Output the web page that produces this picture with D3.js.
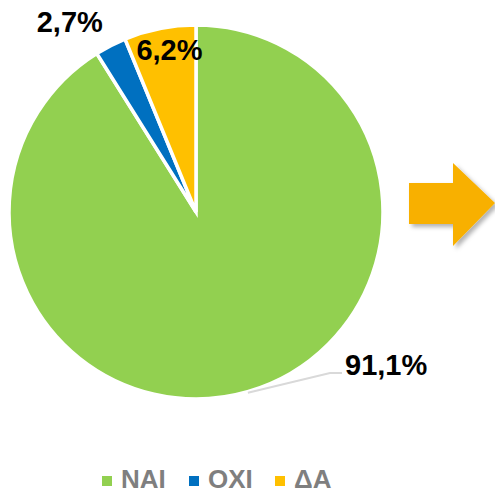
<!DOCTYPE html>
<html><head><meta charset="utf-8">
<script src="https://cdn.jsdelivr.net/npm/d3@7"></script>
<style>
html,body{margin:0;padding:0;background:#fff;}
svg{display:block;font-family:"Liberation Sans",Arial,sans-serif;}
</style></head>
<body>
<svg id="c" width="495" height="493"></svg>
<script>
const categories = ["NAI", "OXI", "ΔΑ"];
const values = [91.1, 2.7, 6.2];
const labels = ["91,1%", "2,7%", "6,2%"];
const colors = ["#92d050", "#0070c0", "#ffc000"];

const svg = d3.select("#c");
const cx = 196, cy = 212, R = 187;

const defs = svg.append("defs");
const f = defs.append("filter").attr("id","sh").attr("x","-20%").attr("y","-20%").attr("width","150%").attr("height","150%");
f.append("feDropShadow").attr("dx",3).attr("dy",3).attr("stdDeviation",2).attr("flood-color","#000").attr("flood-opacity",0.3);

const pie = d3.pie().sort(null).value(d => d)(values);
const arc = d3.arc().innerRadius(0).outerRadius(R);
const g = svg.append("g").attr("transform", `translate(${cx},${cy})`);
g.selectAll("path.s").data(pie).join("path")
  .attr("class","s")
  .attr("d", arc)
  .attr("fill", (d,i) => colors[i])
  .attr("stroke", "#fff").attr("stroke-width", 3.5).attr("stroke-linejoin","miter");

const mid = d => (d.startAngle + d.endAngle) / 2;
const pt = (a, r) => [Math.sin(a) * r, -Math.cos(a) * r];
const FS = 29;

// Label for NAI with leader line
const p0 = pie[0];
const a0 = mid(p0);
const s0 = pt(a0, R + 1);
const e0 = [134, 161];
g.append("polyline")
  .attr("points", [s0, e0, [e0[0] + 12, e0[1]]].map(p => p.join(",")).join(" "))
  .attr("fill","none").attr("stroke","#d9d9d9").attr("stroke-width",2);
g.append("text").attr("x", e0[0] + 15).attr("y", e0[1] + 2)
  .attr("font-size", FS).attr("font-weight", "bold").attr("fill", "#000")
  .text(labels[0]);

// OXI label outside
const a1 = mid(pie[1]);
const p1 = pt(a1, 226);
g.append("text").attr("x", p1[0] - 23).attr("y", p1[1] + 21)
  .attr("text-anchor","middle").attr("font-size",FS).attr("font-weight","bold").attr("fill","#000")
  .text(labels[1]);

// ΔΑ label inside end
const a2 = mid(pie[2]);
const p2 = pt(a2, 163);
g.append("text").attr("x", p2[0] + 5).attr("y", p2[1] + 8)
  .attr("text-anchor","middle").attr("font-size",FS).attr("font-weight","bold").attr("fill","#000")
  .text(labels[2]);

// Arrow
svg.append("path")
  .attr("d","M409,183 L453,183 L453,163 L495,203 L453,246 L453,224 L409,224 Z")
  .attr("fill","#f8b000").attr("filter","url(#sh)");

// Legend
const lx = [102, 189, 275];
const lg = svg.append("g");
categories.forEach((c, i) => {
  lg.append("rect").attr("x", lx[i]).attr("y", 476).attr("width", 10).attr("height", 10).attr("fill", colors[i]);
  lg.append("text").attr("x", lx[i] + 19).attr("y", 488)
    .attr("font-size", 26).attr("font-weight","bold").attr("fill","#7f7f7f").text(c);
});
</script>
</body></html>
